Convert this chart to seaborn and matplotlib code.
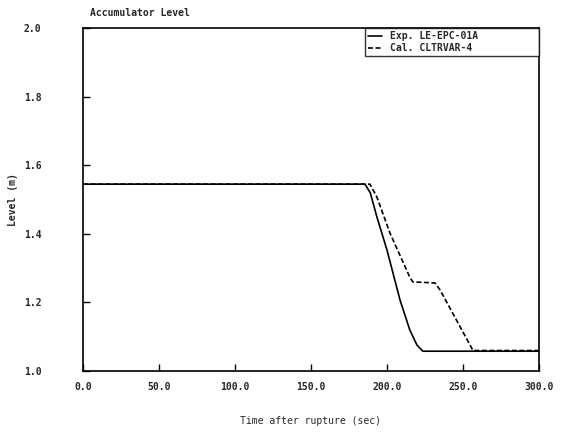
import numpy as np
import pandas as pd
import matplotlib
matplotlib.use("Agg")
import matplotlib.pyplot as plt
import seaborn as sns
from matplotlib.lines import Line2D

# Data
exp_time = [0, 50, 100, 150, 185.5, 189, 193.4, 200, 208.6, 215, 219.7, 223.6, 230, 260, 300]
exp_level = [1.545, 1.545, 1.545, 1.545, 1.545, 1.52, 1.449, 1.353, 1.207, 1.12, 1.076, 1.058, 1.058, 1.058, 1.058]
cal_time = [0, 50, 100, 150, 188.8, 193.4, 202, 215, 217, 231.6, 235, 256.6, 270, 300]
cal_level = [1.545, 1.545, 1.545, 1.545, 1.545, 1.507, 1.402, 1.274, 1.26, 1.257, 1.236, 1.06, 1.06, 1.06]
series_names = ["Exp. LE-EPC-01A", "Cal. CLTRVAR-4"]
x_ticks = [0, 50, 100, 150, 200, 250, 300]
y_ticks = [1.0, 1.2, 1.4, 1.6, 1.8, 2.0]

df = pd.concat([
    pd.DataFrame({"t": exp_time, "level": exp_level, "series": series_names[0]}),
    pd.DataFrame({"t": cal_time, "level": cal_level, "series": series_names[1]}),
])

sns.set_style("ticks")
plt.rcParams["font.family"] = ["DejaVu Sans Mono", "DejaVu Sans"]

fig = plt.figure(figsize=(5.62, 4.32), dpi=100)
ax = fig.add_axes([0.1477, 0.141, 0.959 - 0.1477, 0.935 - 0.141])

sns.lineplot(data=df, x="t", y="level", hue="series", style="series",
             palette=["black", "black"], dashes=[(None, None), (3, 1.5)],
             linewidth=1.2, ax=ax, legend=False, sort=False, estimator=None)

ax.set_xlim(0, 300)
ax.set_ylim(1.0, 2.0)
ax.set_xticks(x_ticks)
ax.set_xticklabels([f"{v:.1f}" for v in x_ticks], fontsize=7, fontweight="bold")
ax.set_yticks(y_ticks)
ax.set_yticklabels([f"{v:.1f}" for v in y_ticks], fontsize=7, fontweight="bold")
ax.tick_params(direction="in", length=5, width=1, color="black")
ax.tick_params(axis="x", pad=8)
ax.tick_params(axis="y", pad=30)
for s in ax.spines.values():
    s.set_color("black")
    s.set_linewidth(1.2)

ax.set_xlabel("Time after rupture (sec)", fontsize=7)
ax.xaxis.set_label_coords(0.5, -0.13)
ax.set_ylabel("Level (m)", fontsize=7, fontweight="bold")
ax.yaxis.set_label_coords(-0.143, 0.5)
ax.text(0.015, 1.03, "Accumulator Level", transform=ax.transAxes, fontsize=7,
        fontweight="bold", ha="left", va="bottom")

handles = [Line2D([], [], color="black", lw=1.2),
           Line2D([], [], color="black", lw=1.2, ls=(0, (3, 1.5)))]
leg = ax.legend(handles, series_names, loc="upper left",
                bbox_to_anchor=(0.618, 0.927, 0.382, 0.073), mode="expand",
                frameon=True, fancybox=False, borderaxespad=0, handlelength=1.5,
                borderpad=0.3, labelspacing=0.2, handletextpad=0.8,
                prop={"weight": "bold", "size": 7})
leg.get_frame().set_edgecolor("black")
leg.get_frame().set_linewidth(1.0)
leg._legend_box.align = "left"

fig.savefig("out.png", dpi=100, facecolor="white")
